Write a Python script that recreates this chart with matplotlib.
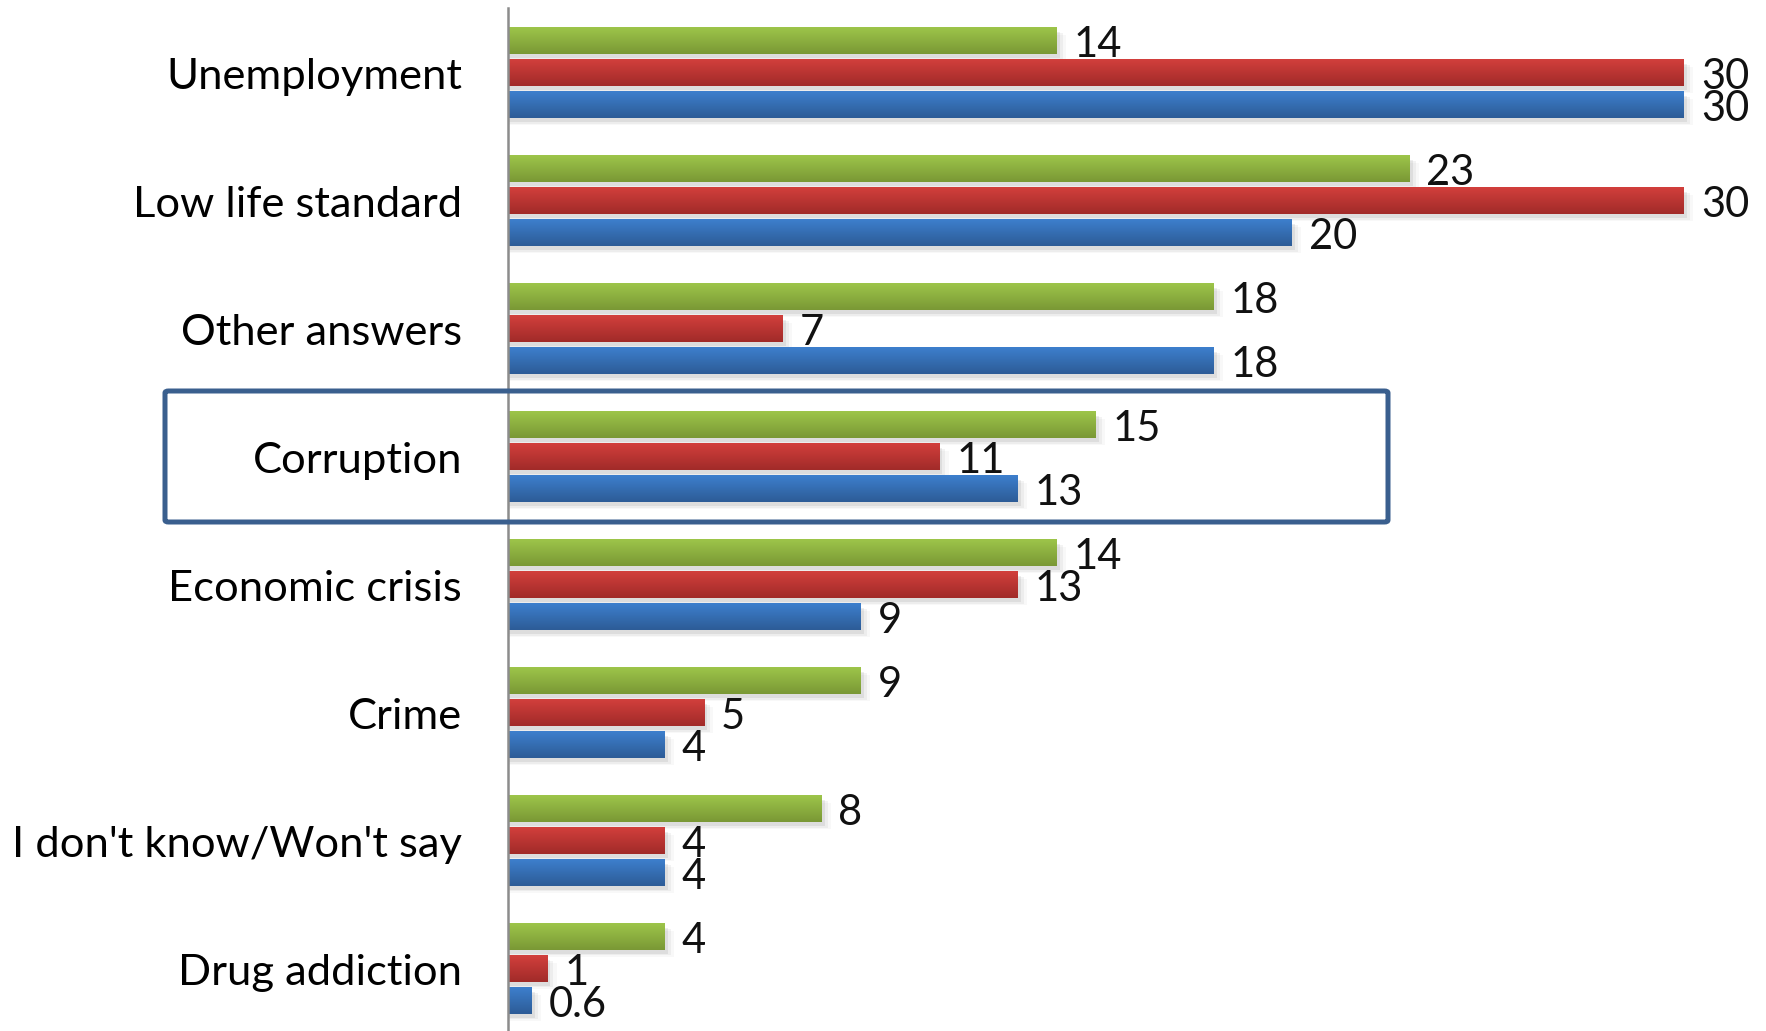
import numpy as np
import matplotlib
matplotlib.use("Agg")
import matplotlib.pyplot as plt
from matplotlib.patches import FancyBboxPatch
from matplotlib.colors import LinearSegmentedColormap

categories = ["Unemployment", "Low life standard", "Other answers", "Corruption",
              "Economic crisis", "Crime", "I don't know/Won't say", "Drug addiction"]
green_vals = [14, 23, 18, 15, 14, 9, 8, 4]
red_vals = [30, 30, 7, 11, 13, 5, 4, 1]
blue_vals = [30, 20, 18, 13, 9, 4, 4, 0.6]

W, H = 1766, 1031
fig = plt.figure(figsize=(W / 100, H / 100), dpi=100)
plt.rcParams['font.family'] = ['Lato', 'DejaVu Sans']

ax_left = 508 / W
ax = fig.add_axes([ax_left, 0, 1 - ax_left, 1 - 8 / H])

series = [
    (green_vals, -0.25, ("#9DC54A", "#7A9835")),
    (red_vals, 0.0, ("#D23F3C", "#A12B29")),
    (blue_vals, 0.25, ("#3D7FCD", "#2D5C97")),
]
bar_h = 0.205
grad = np.linspace(0, 1, 64).reshape(-1, 1)
ypos = np.arange(len(categories))

for vals, off, (c_top, c_bot) in series:
    cmap = LinearSegmentedColormap.from_list("g", [c_top, c_bot])
    for y, v in zip(ypos, vals):
        yc = y + off
        # soft drop shadow under each bar
        for k, a in enumerate([0.10, 0.07, 0.04]):
            ax.barh(yc + 0.03 + 0.012 * k, v + 0.08 * (k + 1), height=bar_h,
                    left=0, color="#606060", alpha=a, linewidth=0, zorder=1)
        ax.imshow(grad, cmap=cmap, aspect="auto", interpolation="bilinear",
                  extent=[0, v, yc + bar_h / 2, yc - bar_h / 2], zorder=2)
        ax.text(v + 0.43, yc, f"{v:g}", ha="left", va="center_baseline",
                fontsize=30, color="#111111", zorder=3)

ax.set_xlim(0, (W - 508) / 39.2)
ax.set_ylim(7 + (H - 969) / 128, -0.508)
ax.set_yticks(ypos)
ax.set_yticklabels(categories, fontsize=31.3)
ax.tick_params(axis="y", length=0, pad=33)
ax.set_xticks([])
for s in ["top", "right", "bottom"]:
    ax.spines[s].set_visible(False)
ax.spines["left"].set_color("#8C8C8C")
ax.spines["left"].set_linewidth(1.8)
ax.set_facecolor("none")

# highlight frame around the Corruption group
x0, y0, x1, y1 = 165, 391, 1388, 522
box = FancyBboxPatch((x0 / W, 1 - y1 / H), (x1 - x0) / W, (y1 - y0) / H,
                     boxstyle="round,pad=0,rounding_size=0.002",
                     transform=fig.transFigure, fill=False,
                     edgecolor="#3A5F8E", linewidth=3.6, zorder=5)
fig.patches.append(box)

fig.savefig("out.png", dpi=100, facecolor="white")
